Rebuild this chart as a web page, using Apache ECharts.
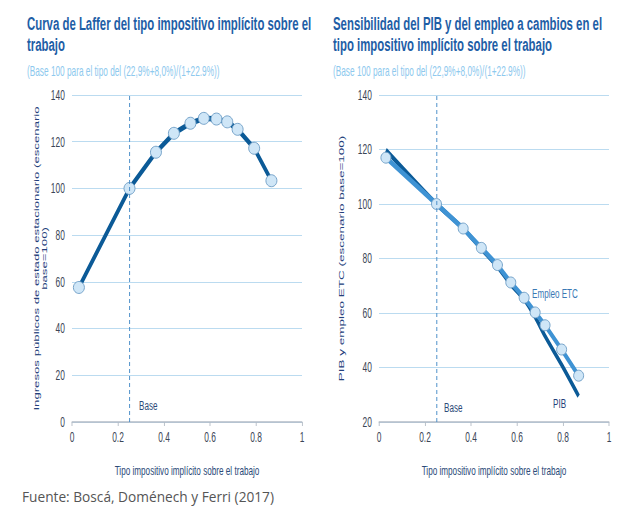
<!DOCTYPE html>
<html><head><meta charset="utf-8">
<script src="https://cdn.jsdelivr.net/npm/echarts@6/dist/echarts.min.js"></script>
<style>
html,body{margin:0;padding:0;background:#fff;overflow:hidden}
#wrap{width:622px;height:515px;overflow:hidden;position:relative}
#c{width:1037px;height:515px;transform:scaleX(0.6);transform-origin:0 0}
</style>
</head><body><div id="wrap"><div id="c"></div></div>
<script>
// ---- data ----
const xTicks = [0, 0.2, 0.4, 0.6, 0.8, 1];
const laffX = [0.03, 0.25, 0.365, 0.443, 0.515, 0.573, 0.628, 0.675, 0.72, 0.792, 0.867];
const laffY = [57.6, 100, 115.5, 123.6, 127.9, 130, 129.7, 128.5, 125.3, 117.2, 103.3];
const etcX = [0.03, 0.25, 0.366, 0.445, 0.515, 0.573, 0.631, 0.679, 0.722, 0.794, 0.868];
const etcY = [117, 100, 91, 83.9, 77.6, 71.2, 65.6, 60.2, 55.5, 46.6, 37];
const pibY = [119.8, 100, 91, 83.5, 77, 70.5, 65, 58.5, 51.5, 41, 29.5];
const baseRate = 0.25;

// ---- layout (chart drawn wide, then squeezed horizontally like the original) ----
const SQ = 0.6;
const X = v => v / SQ;
const FONT = '"Liberation Sans", Arial, sans-serif';
const zip = (xs, ys) => xs.map((x, i) => [x, ys[i]]);

const chart = echarts.init(document.getElementById('c'), null, {renderer: 'svg'});

function xAxisDef(gi) {
  return {
    gridIndex: gi, type: 'value', min: 0, max: 1, interval: 0.2,
    name: 'Tipo impositivo implícito sobre el trabajo',
    nameLocation: 'middle', nameGap: 41,
    nameTextStyle: {fontFamily: FONT, fontSize: 13.6, color: '#2b4a78'},
    axisLine: {show: true, lineStyle: {color: '#b4bcc6', width: 1.5}},
    axisTick: {show: true, length: 4, lineStyle: {color: '#b4bcc6', width: 1.5}},
    axisLabel: {fontFamily: FONT, fontSize: 14, color: '#3b4656', margin: 8,
      formatter: v => String(+v.toFixed(1))},
    splitLine: {show: false}
  };
}
function yAxisDef(gi, min, name, nameGap, fs) {
  return {
    gridIndex: gi, type: 'value', min: min, max: 140, interval: 20,
    name: name, nameLocation: 'middle', nameGap: nameGap, nameRotate: 90,
    nameTextStyle: {fontFamily: FONT, fontSize: fs, color: '#24407a', lineHeight: 13.5},
    axisLine: {show: false}, axisTick: {show: false},
    axisLabel: {fontFamily: FONT, fontSize: 14, color: '#3b4656', margin: 12},
    splitLine: {show: true, lineStyle: {color: '#a9d2ec', width: 1}}
  };
}
const baseMark = {
  silent: true, symbol: 'none', label: {show: false},
  lineStyle: {type: [4, 3], color: '#4a8ec8', width: 1.6},
  data: [{xAxis: baseRate}]
};
const markerStyle = {color: '#cfe6f7', borderColor: '#6f9ec6', borderWidth: 1.2};

function txt(x, y, text, font, fill, extra) {
  return Object.assign({type: 'text', x: x, y: y,
    style: {text: text, font: font, fill: fill, verticalAlign: 'middle', align: 'left'}}, extra || {});
}

chart.setOption({
  animation: false,
  grid: [
    {left: X(72), top: 95, width: X(230), height: 327},
    {left: X(379), top: 95, width: X(230), height: 327}
  ],
  xAxis: [xAxisDef(0), xAxisDef(1)],
  yAxis: [
    yAxisDef(0, 0, 'Ingresos públicos de estado estacionario (escenario\nbase=100)', 40, 13.2),
    yAxisDef(1, 20, 'PIB y empleo ETC (escenario base=100)', 57, 13.5)
  ],
  series: [
    {type: 'line', name: 'Ingresos', xAxisIndex: 0, yAxisIndex: 0, data: zip(laffX, laffY),
      symbol: 'circle', symbolSize: [X(11), 12], lineStyle: {color: '#0b5a97', width: 5.5},
      itemStyle: markerStyle, markLine: baseMark, z: 3},
    {type: 'line', name: 'PIB', xAxisIndex: 1, yAxisIndex: 1, data: zip(etcX, pibY),
      symbol: 'none', smooth: 0.3, lineStyle: {color: '#0b5a97', width: 5}, markLine: baseMark, z: 2},
    {type: 'line', name: 'Empleo ETC', xAxisIndex: 1, yAxisIndex: 1, data: zip(etcX, etcY),
      symbol: 'circle', symbolSize: [X(10), 11], lineStyle: {color: '#3f93d4', width: 5.5},
      itemStyle: markerStyle, z: 3}
  ],
  graphic: [
    txt(X(27), 23, 'Curva de Laffer del tipo impositivo implícito sobre el', 'bold 19px ' + FONT, '#1e5ea6'),
    txt(X(27), 44, 'trabajo', 'bold 19px ' + FONT, '#1e5ea6'),
    txt(X(27), 71, '(Base 100 para el tipo del (22,9%+8,0%)/(1+22.9%))', '13.8px ' + FONT, '#8ec9ee'),
    txt(X(333), 23, 'Sensibilidad del PIB y del empleo a cambios en el', 'bold 19px ' + FONT, '#1e5ea6'),
    txt(X(333), 44, 'tipo impositivo implícito sobre el trabajo', 'bold 19px ' + FONT, '#1e5ea6'),
    txt(X(333), 71, '(Base 100 para el tipo del (22,9%+8,0%)/(1+22.9%))', '13.8px ' + FONT, '#8ec9ee'),
    txt(X(139), 405, 'Base', '13.5px ' + FONT, '#2b4a78'),
    txt(X(444), 407, 'Base', '13.5px ' + FONT, '#2b4a78'),
    txt(X(532), 293, 'Empleo ETC', '13.5px ' + FONT, '#3a79b4'),
    txt(X(553), 403, 'PIB', '13.5px ' + FONT, '#24407a'),
    txt(X(22), 497, 'Fuente: Boscá, Doménech y Ferri (2017)', '13.7px "Open Sans", sans-serif', '#555',
      {scaleX: 1 / SQ})
  ]
});
</script></body></html>
